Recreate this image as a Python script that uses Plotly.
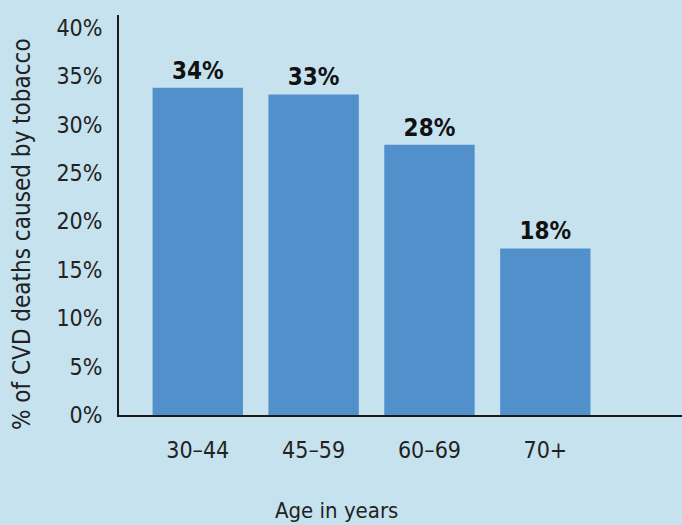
import plotly.graph_objects as go

categories = ["30–44", "45–59", "60–69", "70+"]
values = [33.8, 33.1, 27.9, 17.2]
labels = ["34%", "33%", "28%", "18%"]
y_ticks = [0, 5, 10, 15, 20, 25, 30, 35, 40]
y_tick_text = [f"{v}%" for v in y_ticks]

BG = "#c6e2ef"
BAR = "#5290cb"
FONT = "DejaVu Sans Condensed, Liberation Sans Narrow, Arial Narrow, sans-serif"

fig = go.Figure()
fig.add_trace(go.Bar(
    x=list(range(len(categories))),
    y=values,
    marker=dict(color=BAR, line=dict(width=0)),
    text=labels,
    textposition="outside",
    textfont=dict(family=FONT, size=24, color="#111111"),
    texttemplate="<b>%{text}</b>",
    cliponaxis=False,
    width=0.78,
))

fig.update_layout(
    width=682, height=525,
    paper_bgcolor=BG, plot_bgcolor=BG,
    margin=dict(l=119, r=0, t=15, b=110),
    showlegend=False,
    font=dict(family=FONT, size=22, color="#222222"),
    xaxis=dict(
        range=[-0.68, 4.18],
        tickmode="array",
        tickvals=list(range(len(categories))),
        ticktext=categories,
        showline=True, linecolor="#1a1a1a", linewidth=2,
        showgrid=False, zeroline=False,
        ticks="", ticklabelstandoff=13,
        tickfont=dict(family=FONT, size=23, color="#222222"),
    ),
    yaxis=dict(
        range=[0, 41.3],
        tickmode="array",
        tickvals=y_ticks,
        ticktext=y_tick_text,
        showline=True, linecolor="#1a1a1a", linewidth=2,
        showgrid=False, zeroline=False,
        ticks="", ticklabelstandoff=10,
        tickfont=dict(family=FONT, size=23, color="#222222"),
    ),
)

fig.add_annotation(
    text="% of CVD deaths caused by tobacco", xref="paper", yref="paper",
    x=(22 - 119) / 563, y=(415 - 234) / 400, xanchor="center", yanchor="middle",
    textangle=-90, showarrow=False,
    font=dict(family=FONT, size=24, color="#222222"),
)

fig.add_annotation(
    text="Age in years", xref="paper", yref="paper",
    x=(336 - 119) / 563, y=-0.238, xanchor="center", yanchor="middle",
    showarrow=False, font=dict(family=FONT, size=22, color="#222222"),
)

fig.write_html("out.html")
